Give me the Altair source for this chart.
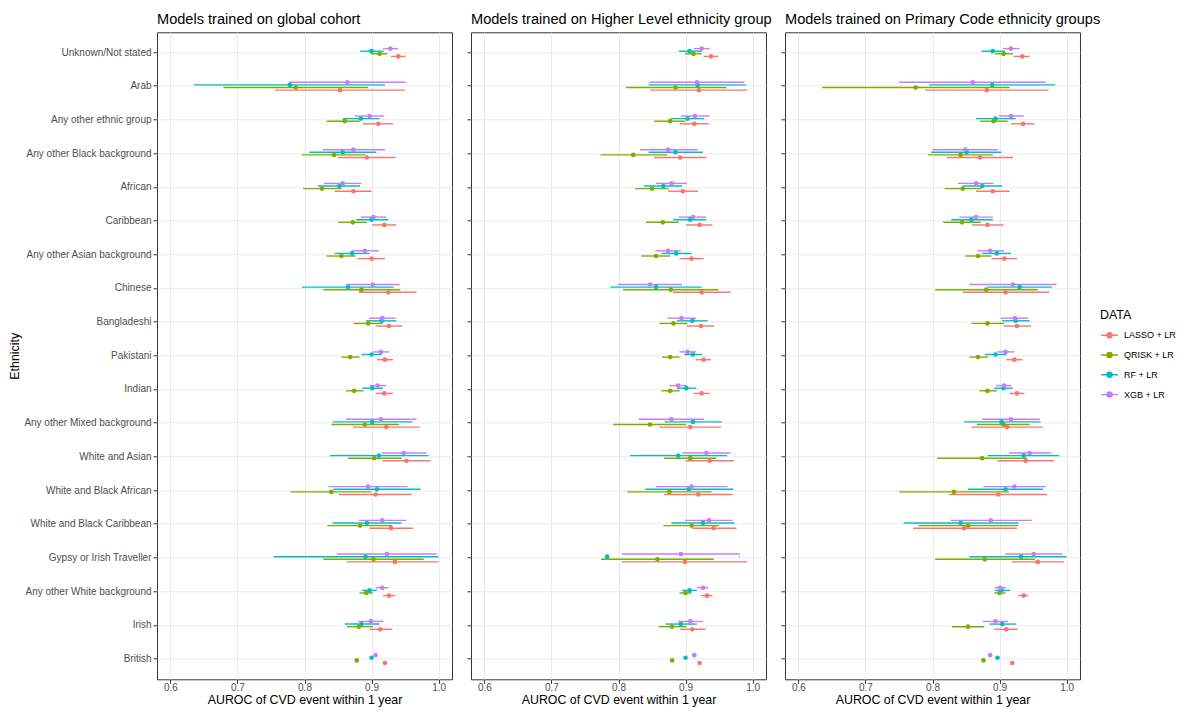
import altair as alt
import pandas as pd

ETHNICITIES = [
    "Unknown/Not stated", "Arab", "Any other ethnic group", "Any other Black background",
    "African", "Caribbean", "Any other Asian background", "Chinese", "Bangladeshi",
    "Pakistani", "Indian", "Any other Mixed background", "White and Asian",
    "White and Black African", "White and Black Caribbean", "Gypsy or Irish Traveller",
    "Any other White background", "Irish", "British",
]
MODELS = ["LASSO + LR", "QRISK + LR", "RF + LR", "XGB + LR"]
COLORS = ["#F8766D", "#7CAE00", "#00BFC4", "#C77CFF"]
OFFSET_ORDER = ["XGB + LR", "RF + LR", "QRISK + LR", "LASSO + LR"]
PANEL_TITLES = [
    "Models trained on global cohort",
    "Models trained on Higher Level ethnicity group",
    "Models trained on Primary Code ethnicity groups",
]
X_TICKS = [0.6, 0.65, 0.7, 0.75, 0.8, 0.85, 0.9, 0.95, 1.0]

# (estimate, lower, upper) for each ethnicity in ETHNICITIES order
GLOBAL_LASSO = [(0.940, 0.929, 0.951), (0.853, 0.756, 0.950), (0.910, 0.887, 0.932), (0.893, 0.850, 0.936),
                (0.873, 0.845, 0.900), (0.919, 0.901, 0.937), (0.900, 0.879, 0.920), (0.925, 0.881, 0.967),
                (0.926, 0.906, 0.946), (0.920, 0.908, 0.932), (0.919, 0.906, 0.932), (0.922, 0.872, 0.972),
                (0.952, 0.917, 0.988), (0.906, 0.851, 0.960), (0.929, 0.897, 0.962), (0.935, 0.863, 1.000),
                (0.926, 0.917, 0.935), (0.913, 0.897, 0.931), (0.920, 0.918, 0.922)]
GLOBAL_QRISK = [(0.912, 0.899, 0.924), (0.787, 0.679, 0.895), (0.860, 0.833, 0.882), (0.844, 0.796, 0.891),
                (0.826, 0.798, 0.855), (0.872, 0.850, 0.893), (0.855, 0.833, 0.876), (0.885, 0.828, 0.943),
                (0.895, 0.873, 0.916), (0.868, 0.855, 0.882), (0.874, 0.862, 0.888), (0.890, 0.840, 0.941),
                (0.904, 0.865, 0.945), (0.840, 0.779, 0.900), (0.883, 0.834, 0.931), (0.903, 0.828, 0.978),
                (0.892, 0.882, 0.902), (0.881, 0.863, 0.902), (0.878, 0.876, 0.880)]
GLOBAL_RF = [(0.900, 0.883, 0.918), (0.778, 0.635, 0.920), (0.884, 0.857, 0.912), (0.857, 0.807, 0.907),
             (0.852, 0.820, 0.883), (0.900, 0.877, 0.925), (0.871, 0.845, 0.897), (0.865, 0.796, 0.933),
             (0.915, 0.892, 0.937), (0.900, 0.885, 0.915), (0.901, 0.886, 0.917), (0.901, 0.842, 0.961),
             (0.911, 0.838, 0.985), (0.908, 0.843, 0.973), (0.893, 0.842, 0.945), (0.891, 0.754, 1.000),
             (0.897, 0.886, 0.908), (0.885, 0.860, 0.912), (0.900, 0.898, 0.902)]
GLOBAL_XGB = [(0.928, 0.917, 0.940), (0.864, 0.777, 0.951), (0.897, 0.875, 0.919), (0.873, 0.827, 0.920),
              (0.857, 0.829, 0.885), (0.903, 0.884, 0.922), (0.890, 0.871, 0.911), (0.902, 0.862, 0.942),
              (0.916, 0.896, 0.936), (0.914, 0.902, 0.926), (0.909, 0.897, 0.922), (0.914, 0.862, 0.967),
              (0.948, 0.915, 0.982), (0.895, 0.836, 0.954), (0.916, 0.881, 0.952), (0.923, 0.848, 0.997),
              (0.916, 0.906, 0.925), (0.899, 0.880, 0.918), (0.906, 0.904, 0.908)]

HIGHER_LASSO = [(0.938, 0.927, 0.949), (0.920, 0.847, 0.992), (0.913, 0.891, 0.935), (0.892, 0.853, 0.931),
                (0.896, 0.874, 0.919), (0.921, 0.901, 0.940), (0.909, 0.891, 0.927), (0.924, 0.881, 0.967),
                (0.923, 0.902, 0.943), (0.927, 0.915, 0.938), (0.924, 0.912, 0.936), (0.907, 0.861, 0.953),
                (0.936, 0.900, 0.972), (0.919, 0.868, 0.970), (0.942, 0.910, 0.976), (0.899, 0.805, 0.992),
                (0.932, 0.923, 0.940), (0.910, 0.892, 0.930), (0.921, 0.919, 0.923)]
HIGHER_QRISK = [(0.912, 0.899, 0.924), (0.885, 0.811, 0.961), (0.877, 0.853, 0.900), (0.822, 0.773, 0.873),
                (0.850, 0.825, 0.875), (0.866, 0.841, 0.890), (0.856, 0.834, 0.877), (0.878, 0.807, 0.949),
                (0.882, 0.861, 0.903), (0.877, 0.865, 0.891), (0.877, 0.864, 0.891), (0.847, 0.792, 0.901),
                (0.907, 0.868, 0.946), (0.876, 0.813, 0.939), (0.909, 0.867, 0.950), (0.858, 0.774, 0.942),
                (0.900, 0.891, 0.909), (0.880, 0.860, 0.901), (0.880, 0.878, 0.882)]
HIGHER_RF = [(0.906, 0.890, 0.924), (0.918, 0.845, 0.990), (0.903, 0.878, 0.928), (0.885, 0.845, 0.926),
             (0.867, 0.838, 0.895), (0.907, 0.882, 0.931), (0.886, 0.864, 0.909), (0.856, 0.788, 0.924),
             (0.910, 0.887, 0.933), (0.911, 0.898, 0.925), (0.901, 0.887, 0.916), (0.911, 0.869, 0.954),
             (0.889, 0.817, 0.962), (0.905, 0.840, 0.971), (0.926, 0.879, 0.973), (0.783, 0.9802, 0.9812),
             (0.906, 0.895, 0.917), (0.893, 0.870, 0.917), (0.900, 0.898, 0.902)]
HIGHER_XGB = [(0.924, 0.912, 0.936), (0.917, 0.846, 0.988), (0.914, 0.893, 0.936), (0.874, 0.832, 0.918),
              (0.879, 0.856, 0.902), (0.911, 0.890, 0.931), (0.874, 0.855, 0.893), (0.847, 0.799, 0.895),
              (0.894, 0.873, 0.916), (0.903, 0.891, 0.916), (0.889, 0.876, 0.902), (0.879, 0.830, 0.928),
              (0.931, 0.895, 0.967), (0.909, 0.856, 0.963), (0.935, 0.899, 0.970), (0.893, 0.805, 0.981),
              (0.926, 0.917, 0.934), (0.907, 0.889, 0.926), (0.913, 0.911, 0.915)]

PRIMARY_LASSO = [(0.934, 0.921, 0.945), (0.881, 0.789, 0.973), (0.935, 0.917, 0.952), (0.871, 0.821, 0.920),
                 (0.890, 0.865, 0.915), (0.882, 0.859, 0.906), (0.907, 0.888, 0.926), (0.909, 0.845, 0.974),
                 (0.926, 0.906, 0.947), (0.922, 0.910, 0.934), (0.926, 0.915, 0.937), (0.911, 0.858, 0.965),
                 (0.939, 0.897, 0.981), (0.898, 0.825, 0.971), (0.847, 0.771, 0.926), (0.957, 0.918, 0.996),
                 (0.936, 0.928, 0.943), (0.910, 0.892, 0.927), (0.919, 0.917, 0.921)]
PRIMARY_QRISK = [(0.906, 0.893, 0.920), (0.775, 0.635, 0.915), (0.891, 0.871, 0.912), (0.842, 0.793, 0.890),
                 (0.845, 0.818, 0.873), (0.844, 0.816, 0.872), (0.868, 0.849, 0.888), (0.880, 0.804, 0.957),
                 (0.882, 0.858, 0.907), (0.868, 0.855, 0.883), (0.882, 0.870, 0.896), (0.906, 0.866, 0.945),
                 (0.874, 0.807, 0.941), (0.832, 0.750, 0.914), (0.853, 0.779, 0.928), (0.878, 0.804, 0.953),
                 (0.900, 0.892, 0.909), (0.853, 0.829, 0.877), (0.876, 0.874, 0.878)]
PRIMARY_RF = [(0.890, 0.873, 0.908), (0.889, 0.795, 0.983), (0.894, 0.865, 0.924), (0.851, 0.798, 0.903),
              (0.874, 0.845, 0.904), (0.858, 0.828, 0.890), (0.896, 0.874, 0.917), (0.930, 0.882, 0.978),
              (0.924, 0.904, 0.945), (0.894, 0.878, 0.910), (0.906, 0.892, 0.920), (0.903, 0.847, 0.961),
              (0.936, 0.882, 0.989), (0.909, 0.853, 0.965), (0.842, 0.757, 0.928), (0.932, 0.855, 1.000),
              (0.903, 0.893, 0.916), (0.904, 0.885, 0.925), (0.897, 0.895, 0.899)]
PRIMARY_XGB = [(0.917, 0.905, 0.930), (0.860, 0.750, 0.969), (0.917, 0.899, 0.936), (0.849, 0.800, 0.897),
               (0.865, 0.838, 0.891), (0.865, 0.840, 0.890), (0.886, 0.867, 0.907), (0.920, 0.855, 0.985),
               (0.923, 0.902, 0.943), (0.909, 0.897, 0.922), (0.907, 0.895, 0.918), (0.917, 0.874, 0.960),
               (0.945, 0.914, 0.977), (0.922, 0.876, 0.969), (0.887, 0.827, 0.948), (0.951, 0.908, 0.994),
               (0.901, 0.893, 0.910), (0.894, 0.875, 0.913), (0.886, 0.884, 0.888)]

PANELS = [
    {"LASSO + LR": GLOBAL_LASSO, "QRISK + LR": GLOBAL_QRISK, "RF + LR": GLOBAL_RF, "XGB + LR": GLOBAL_XGB},
    {"LASSO + LR": HIGHER_LASSO, "QRISK + LR": HIGHER_QRISK, "RF + LR": HIGHER_RF, "XGB + LR": HIGHER_XGB},
    {"LASSO + LR": PRIMARY_LASSO, "QRISK + LR": PRIMARY_QRISK, "RF + LR": PRIMARY_RF, "XGB + LR": PRIMARY_XGB},
]

FONT = "Liberation Sans"
MINOR = "abs(datum.value*20 - round(datum.value*10)*2) > 0.5"


def panel_frame(series):
    rows = []
    for model in MODELS:
        for eth, (est, lo, hi) in zip(ETHNICITIES, series[model]):
            rows.append({"ethnicity": eth, "model": model, "est": est, "lo": lo, "hi": hi})
    return pd.DataFrame(rows)


def make_panel(series, title, first):
    df = panel_frame(series)
    if first:
        yaxis = alt.Axis(title="Ethnicity", labelFontSize=10, labelColor="#4D4D4D", labelPadding=2,
                         tickSize=4, tickColor="#333333", domain=False, grid=True, gridColor="#EBEBEB",
                         bandPosition=0.5, titlePadding=2, titleFontSize=12.4, titleFontWeight="normal",
                         titleColor="#000000", labelFont=FONT, titleFont=FONT)
    else:
        yaxis = alt.Axis(title=None, labels=False, tickSize=4, tickColor="#333333", domain=False,
                         grid=True, gridColor="#EBEBEB", bandPosition=0.5)
    xscale = alt.Scale(domain=[0.58, 1.02], nice=False, zero=False)
    xaxis = alt.Axis(
        title="AUROC of CVD event within 1 year", values=X_TICKS,
        labelExpr=MINOR + " ? '' : format(datum.value, '.1f')",
        tickOpacity={"condition": {"test": MINOR, "value": 0}, "value": 1},
        gridWidth={"condition": {"test": MINOR, "value": 0.6}, "value": 1},
        tickSize=4, tickColor="#333333", domain=False, grid=True, gridColor="#EBEBEB",
        labelFontSize=10, labelColor="#4D4D4D", labelPadding=-0.5, labelFont=FONT,
        titleFontSize=12.4, titleFontWeight="normal", titleColor="#000000", titlePadding=1, titleFont=FONT,
    )
    base = alt.Chart(df).encode(
        y=alt.Y("ethnicity:N", sort=ETHNICITIES,
                scale=alt.Scale(paddingInner=0.69, paddingOuter=0.445), axis=yaxis),
        yOffset=alt.YOffset("model:N", sort=OFFSET_ORDER,
                            scale=alt.Scale(paddingInner=0, paddingOuter=0)),
        color=alt.Color("model:N", scale=alt.Scale(domain=MODELS, range=COLORS),
                        legend=alt.Legend(title="DATA")),
    )
    rules = base.mark_rule(strokeWidth=1.4).encode(
        x=alt.X("lo:Q", scale=xscale, axis=xaxis), x2="hi:Q")
    points = base.mark_point(filled=True, size=22, opacity=1).encode(x=alt.X("est:Q", scale=xscale))
    return alt.layer(rules, points).properties(
        width=295, height=647,
        title=alt.Title(title, anchor="start", frame="group", fontSize=14.6, fontWeight="normal",
                        color="#000000", offset=6, font=FONT),
    )


charts = [make_panel(s, t, i == 0) for i, (s, t) in enumerate(zip(PANELS, PANEL_TITLES))]

LEGEND_SYMBOL = "M-1,0L1,0M-0.3,0A0.3,0.3,0,1,0,0.3,0A0.3,0.3,0,1,0,-0.3,0Z"

chart = alt.hconcat(*charts, spacing=19, bounds="flush").properties(
    padding={"left": 0, "top": 2.3, "right": 0, "bottom": 0},
    background="#FFFFFF",
).configure_view(
    stroke="#333333", strokeWidth=1,
).configure_legend(
    orient="none", legendX=943, legendY=277,
    titleFontSize=12.4, titleFontWeight="normal", titleColor="#000000", titleFont=FONT,
    labelFontSize=9, labelColor="#000000", labelFont=FONT, labelOffset=5,
    symbolType=LEGEND_SYMBOL, symbolSize=289, symbolStrokeWidth=1.4, rowPadding=4.8, titlePadding=4,
)

chart.save("out.html", embed_options={"renderer": "svg", "actions": False})
